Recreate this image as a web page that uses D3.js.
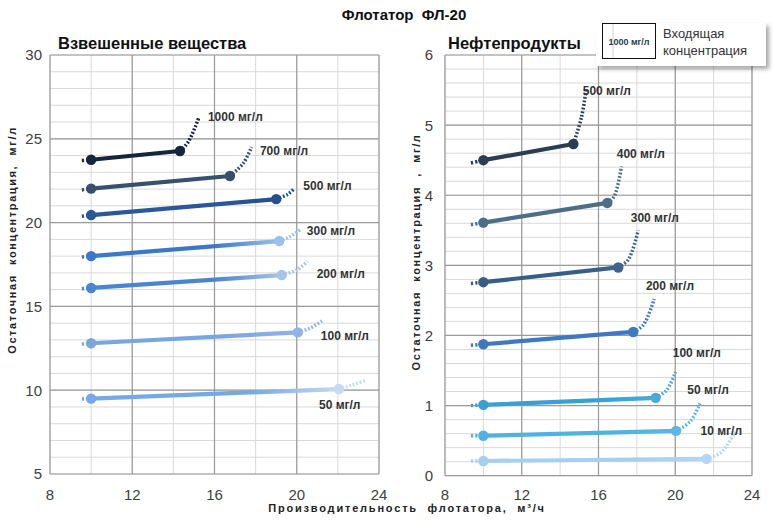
<!DOCTYPE html>
<html>
<head>
<meta charset="utf-8">
<script src="https://cdn.jsdelivr.net/npm/d3@7"></script>
<style>
  body { margin: 0; background: #fff; }
  svg { display: block; }
  text { font-family: "Liberation Sans", Arial, sans-serif; }
</style>
</head>
<body>
<div id="chart"></div>
<script>
// ---- DATA ----
const xTicks = [8, 12, 16, 20, 24];
const ssTicks = [5, 10, 15, 20, 25, 30];
const oilTicks = [0, 1, 2, 3, 4, 5, 6];

// Взвешенные вещества
const ssNames = ["1000 мг/л", "700 мг/л", "500 мг/л", "300 мг/л", "200 мг/л", "100 мг/л", "50 мг/л"];
const ssLead = [[9.55, 23.7], [9.55, 21.95], [9.55, 20.38], [9.55, 17.95], [9.55, 16.05], [9.55, 12.75], [9.55, 9.47]];
const ssStart = [[10, 23.75], [10, 22.03], [10, 20.45], [10, 18.0], [10, 16.1], [10, 12.8], [10, 9.5]];
const ssEnd = [[14.32, 24.27], [16.75, 22.78], [19.0, 21.4], [19.15, 18.9], [19.27, 16.87], [20.05, 13.45], [22.05, 10.07]];
const ssBend = [[14.73, 24.83], [17.4, 23.54], [19.55, 21.68], [19.6, 19.12], [20.0, 17.17], [20.65, 13.7], [22.67, 10.3]];
const ssTop = [[15.25, 26.3], [17.8, 24.5], [19.9, 22.05], [20.17, 19.56], [20.52, 17.7], [21.3, 14.19], [23.32, 10.57]];
const ssLabelAt = [[15.68, 26.06], [18.21, 24.03], [20.32, 21.94], [20.49, 19.26], [20.97, 16.68], [21.17, 13.0], [21.08, 8.88]];

// Нефтепродукты
const oilNames = ["500 мг/л", "400 мг/л", "300 мг/л", "200 мг/л", "100 мг/л", "50 мг/л", "10 мг/л"];
const oilLead = [[9.35, 4.46], [9.35, 3.58], [9.35, 2.74], [9.35, 1.86], [9.35, 1.0], [9.35, 0.57], [9.35, 0.21]];
const oilStart = [[10, 4.5], [10, 3.61], [10, 2.76], [10, 1.875], [10, 1.01], [10, 0.57], [10, 0.21]];
const oilEnd = [[14.69, 4.73], [16.46, 3.89], [17.03, 2.97], [17.81, 2.05], [18.98, 1.11], [20.04, 0.64], [21.63, 0.24]];
const oilBend = [[15.12, 5.12], [16.81, 3.98], [17.55, 3.08], [18.34, 2.15], [19.55, 1.22], [20.77, 0.77], [22.42, 0.34]];
const oilTop = [[15.36, 5.52], [17.2, 4.41], [18.07, 3.5], [18.9, 2.52], [20.02, 1.48], [21.29, 1.03], [23.11, 0.63]];
const oilLabelAt = [[15.18, 5.43], [16.95, 4.53], [17.68, 3.62], [18.47, 2.65], [19.87, 1.7], [20.63, 1.16], [21.32, 0.58]];

// ---- STYLE ----
const ssColA = ["#152540", "#37506b", "#2b5899", "#3b78c8", "#4a86d0", "#7aa6e0", "#74a8e6"];
const ssColB = ["#152540", "#37506b", "#24508f", "#9dc0ea", "#a6c4ea", "#8fb5e6", "#c6daf2"];
const oilColA = ["#2b3d53", "#4d6e86", "#385d86", "#3e78c2", "#38a0d2", "#50b2e0", "#a6cff0"];
const oilColB = ["#2b3d53", "#4d6e86", "#40658c", "#3e78c2", "#4aa9d8", "#5cb8e2", "#b3d6f2"];

const width = 780, height = 520;

const svg = d3.select("#chart").append("svg")
  .attr("width", width)
  .attr("height", height);

const defs = svg.append("defs");
defs.append("filter").attr("id", "shadow")
  .attr("x", "-10%").attr("y", "-10%").attr("width", "130%").attr("height", "150%")
  .append("feDropShadow")
  .attr("dx", 3).attr("dy", 3).attr("stdDeviation", 2)
  .attr("flood-color", "#000").attr("flood-opacity", 0.35);

function drawPanel(opt) {
  const x = d3.scaleLinear().domain([8, 24]).range(opt.xRange);
  const y = d3.scaleLinear().domain(opt.yDomain).range(opt.yRange);
  const g = svg.append("g").attr("class", opt.id);

  // grid
  const grid = g.append("g").attr("class", "grid");
  grid.selectAll(".ymin").data(y.ticks(opt.minorY))
    .join("line")
    .attr("x1", opt.xRange[0]).attr("x2", opt.xRange[1])
    .attr("y1", d => y(d)).attr("y2", d => y(d))
    .attr("stroke", "#d9d9d9").attr("stroke-width", 1);
  grid.selectAll(".xmin").data(x.ticks(8))
    .join("line")
    .attr("y1", opt.yRange[0]).attr("y2", opt.yRange[1])
    .attr("x1", d => x(d)).attr("x2", d => x(d))
    .attr("stroke", "#d9d9d9").attr("stroke-width", 1);
  grid.selectAll(".ymaj").data(opt.yTicks)
    .join("line")
    .attr("x1", opt.xRange[0]).attr("x2", opt.xRange[1])
    .attr("y1", d => y(d)).attr("y2", d => y(d))
    .attr("stroke", "#9a9a9a").attr("stroke-width", 1.2);
  grid.selectAll(".xmaj").data(xTicks)
    .join("line")
    .attr("y1", opt.yRange[0]).attr("y2", opt.yRange[1])
    .attr("x1", d => x(d)).attr("x2", d => x(d))
    .attr("stroke", "#9a9a9a").attr("stroke-width", 1.2);

  // tick labels
  g.append("g").selectAll("text").data(opt.yTicks)
    .join("text")
    .attr("x", opt.xRange[0] - opt.yLabelGap)
    .attr("y", d => y(d))
    .attr("dy", "0.36em")
    .attr("text-anchor", "end")
    .attr("font-size", 15)
    .attr("fill", "#404040")
    .text(d => d);
  g.append("g").selectAll("text").data(xTicks)
    .join("text")
    .attr("x", d => x(d))
    .attr("y", 500)
    .attr("text-anchor", "middle")
    .attr("font-size", 15)
    .attr("fill", "#404040")
    .text(d => d);

  // panel title
  g.append("text")
    .attr("x", opt.titleX).attr("y", 49)
    .attr("font-size", 16.5).attr("font-weight", "bold")
    .attr("fill", "#111")
    .text(opt.title);

  // y axis title
  g.append("text")
    .attr("transform", `translate(${opt.axisX},${opt.axisY}) rotate(-90)`)
    .attr("text-anchor", "middle")
    .attr("font-size", 11).attr("font-weight", "bold")
    .attr("letter-spacing", 1.6)
    .attr("fill", "#222")
    .style("white-space", "pre")
    .text(opt.axisTitle);

  const line = d3.line().x(d => x(d[0])).y(d => y(d[1]));
  const curve = d3.line().x(d => x(d[0])).y(d => y(d[1])).curve(d3.curveCatmullRom.alpha(0.5));

  const series = opt.names.map((name, i) => ({
    name, i,
    lead: opt.lead[i], start: opt.start[i], end: opt.end[i],
    bend: opt.bend[i], top: opt.top[i], label: opt.labelAt[i],
    a: opt.colA[i], b: opt.colB[i]
  }));

  // gradients along each solid segment
  series.forEach(s => {
    const grad = defs.append("linearGradient")
      .attr("id", `${opt.id}-g${s.i}`)
      .attr("gradientUnits", "userSpaceOnUse")
      .attr("x1", x(s.start[0])).attr("y1", y(s.start[1]))
      .attr("x2", x(s.end[0])).attr("y2", y(s.end[1]));
    grad.append("stop").attr("offset", "0%").attr("stop-color", s.a);
    grad.append("stop").attr("offset", "65%").attr("stop-color", s.a);
    grad.append("stop").attr("offset", "100%").attr("stop-color", s.b);
  });

  const sg = g.append("g").attr("class", "series");

  sg.selectAll(".lead").data(series)
    .join("path")
    .attr("d", s => line([s.lead, s.start]))
    .attr("fill", "none")
    .attr("stroke", s => s.a)
    .attr("stroke-width", 3.5)
    .attr("stroke-dasharray", "2.2,2.2");

  sg.selectAll(".tail").data(series)
    .join("path")
    .attr("d", s => curve([s.end, s.bend, s.top]))
    .attr("fill", "none")
    .attr("stroke", s => s.b)
    .attr("stroke-width", 3.5)
    .attr("stroke-dasharray", "1.8,1.8");

  sg.selectAll(".solid").data(series)
    .join("path")
    .attr("d", s => line([s.start, s.end]))
    .attr("fill", "none")
    .attr("stroke", s => `url(#${opt.id}-g${s.i})`)
    .attr("stroke-width", 4.2)
    .attr("stroke-linecap", "round");

  sg.selectAll(".m0").data(series)
    .join("circle")
    .attr("cx", s => x(s.start[0])).attr("cy", s => y(s.start[1]))
    .attr("r", 5.2)
    .attr("fill", s => s.a);
  sg.selectAll(".m1").data(series)
    .join("circle")
    .attr("cx", s => x(s.end[0])).attr("cy", s => y(s.end[1]))
    .attr("r", 5.2)
    .attr("fill", s => s.b);

  sg.selectAll(".lbl").data(series)
    .join("text")
    .attr("x", s => x(s.label[0])).attr("y", s => y(s.label[1]))
    .attr("font-size", 12).attr("font-weight", "bold")
    .attr("fill", "#333")
    .text(s => s.name);
}

drawPanel({
  id: "ss", title: "Взвешенные вещества", titleX: 58,
  xRange: [50, 379], yRange: [474, 55], yDomain: [5, 30],
  yTicks: ssTicks, minorY: 25, yLabelGap: 8,
  axisX: 16, axisY: 240, axisTitle: "Остаточная  концентрация,  мг/л",
  names: ssNames, lead: ssLead, start: ssStart, end: ssEnd,
  bend: ssBend, top: ssTop, labelAt: ssLabelAt,
  colA: ssColA, colB: ssColB
});

drawPanel({
  id: "oil", title: "Нефтепродукты", titleX: 448,
  xRange: [445, 752], yRange: [475.7, 55], yDomain: [0, 6],
  yTicks: oilTicks, minorY: 30, yLabelGap: 12,
  axisX: 420, axisY: 252, axisTitle: "Остаточная  концентрация  ,  мг/л",
  names: oilNames, lead: oilLead, start: oilStart, end: oilEnd,
  bend: oilBend, top: oilTop, labelAt: oilLabelAt,
  colA: oilColA, colB: oilColB
});

// main title
svg.append("text")
  .attr("x", 404).attr("y", 20)
  .attr("text-anchor", "middle")
  .attr("font-size", 15).attr("font-weight", "bold")
  .attr("fill", "#111")
  .style("white-space", "pre")
  .text("Флотатор  ФЛ-20");

// x axis title
svg.append("text")
  .attr("x", 407).attr("y", 512)
  .attr("text-anchor", "middle")
  .attr("font-size", 11).attr("font-weight", "bold")
  .attr("letter-spacing", 1.8)
  .attr("fill", "#222")
  .style("white-space", "pre")
  .text("Производительность  флотатора,  м³/ч");

// legend
const leg = svg.append("g").attr("class", "legend");
leg.append("rect")
  .attr("x", 596).attr("y", 23).attr("width", 170).attr("height", 43)
  .attr("fill", "#fff")
  .attr("filter", "url(#shadow)");
leg.append("rect")
  .attr("x", 602.5).attr("y", 23.5).attr("width", 53).attr("height", 35)
  .attr("fill", "none").attr("stroke", "#111").attr("stroke-width", 1);
leg.append("line")
  .attr("x1", 613).attr("x2", 613).attr("y1", 24).attr("y2", 58)
  .attr("stroke", "#d0d0d0");
leg.append("text")
  .attr("x", 629).attr("y", 45)
  .attr("text-anchor", "middle")
  .attr("font-size", 9).attr("font-weight", "bold")
  .attr("fill", "#2b3d53")
  .text("1000 мг/л");
leg.append("text")
  .attr("x", 663).attr("y", 38)
  .attr("font-size", 13).attr("fill", "#333")
  .text("Входящая");
leg.append("text")
  .attr("x", 663).attr("y", 55)
  .attr("font-size", 13).attr("fill", "#333")
  .text("концентрация");
</script>
</body>
</html>
